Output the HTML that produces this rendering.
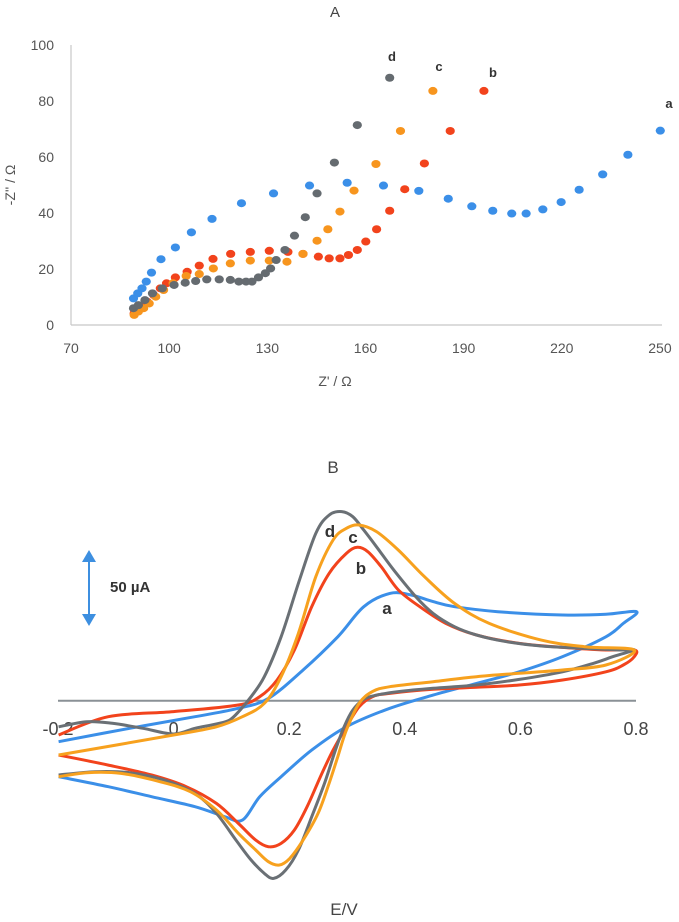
<!DOCTYPE html>
<html><head><meta charset="utf-8"><style>
html,body{margin:0;padding:0;background:#fff;}
svg{display:block;font-family:"Liberation Sans",sans-serif;}
</style></head><body>
<svg id="fig" width="679" height="922" viewBox="0 0 679 922" xmlns="http://www.w3.org/2000/svg">
<g id="chartA">
  <text x="335" y="17" font-size="15" fill="#444" text-anchor="middle">A</text>
  <line x1="71" y1="45" x2="71" y2="325" stroke="#c8c8c8" stroke-width="1.2"/>
  <line x1="71" y1="325" x2="662" y2="325" stroke="#c8c8c8" stroke-width="1.2"/>
  <text transform="translate(15,185) rotate(-90)" font-size="14" fill="#555" text-anchor="middle">-Z'' / Ω</text>
  <text x="335" y="386" font-size="14" fill="#555" text-anchor="middle">Z' / Ω</text>
  <g id="aTicks"></g>
  <g id="aPts"></g>
  <text x="392" y="61" font-size="13" font-weight="bold" fill="#333" text-anchor="middle">d</text>
  <text x="439" y="71" font-size="13" font-weight="bold" fill="#333" text-anchor="middle">c</text>
  <text x="493" y="77" font-size="13" font-weight="bold" fill="#333" text-anchor="middle">b</text>
  <text x="669" y="108" font-size="13" font-weight="bold" fill="#333" text-anchor="middle">a</text>
</g>
<g id="chartB">
  <text x="333" y="473" font-size="17" fill="#444" text-anchor="middle">B</text>
  <line x1="58" y1="700.7" x2="636" y2="700.7" stroke="#8a9196" stroke-width="2"/>
  <g id="bTicks"></g>
  <g id="bCurves"></g>
  <g>
    <line x1="89" y1="556" x2="89" y2="620" stroke="#3d8fe0" stroke-width="2"/>
    <polygon points="82,562 89,550 96,562" fill="#3d8fe0"/>
    <polygon points="82,614 89,626 96,614" fill="#3d8fe0"/>
  </g>
  <text x="110" y="592" font-size="15" font-weight="bold" fill="#333">50 µA</text>
  <text x="330" y="537" font-size="17" font-weight="bold" fill="#333" text-anchor="middle">d</text>
  <text x="353" y="543" font-size="17" font-weight="bold" fill="#333" text-anchor="middle">c</text>
  <text x="361" y="574" font-size="17" font-weight="bold" fill="#333" text-anchor="middle">b</text>
  <text x="387" y="614" font-size="17" font-weight="bold" fill="#333" text-anchor="middle">a</text>
  <text x="344" y="915" font-size="17" fill="#444" text-anchor="middle">E/V</text>
</g>
</svg>
<script>
// ---- Chart A data ----
const aXTicks = [70,100,130,160,190,220,250];
const aYTicks = [0,20,40,60,80,100];
const aZre = [89.1,90.4,91.7,93.0,94.6,97.5,101.9,106.8,113.1,122.1,131.9,142.9,154.4,165.5,176.3,185.3,192.5,198.9,204.7,209.1,214.2,219.8,225.3,232.5,240.2,250.1];
const aZim = [9.5,11.3,13.1,15.5,18.7,23.5,27.7,33.1,37.9,43.5,47.0,49.8,50.8,49.8,47.9,45.1,42.4,40.8,39.8,39.8,41.3,43.9,48.3,53.8,60.8,69.4];
const bZre = [89.3,90.6,92.0,93.3,95.3,97.3,99.2,101.9,105.5,109.2,113.4,118.8,124.8,130.6,136.3,140.9,145.6,148.9,152.2,154.8,157.5,160.1,163.4,167.4,172.0,178.0,185.9,196.2];
const bZim = [4.2,5.4,6.5,8.3,10.7,13.1,14.9,17.0,19.0,21.2,23.6,25.4,26.1,26.5,26.1,25.4,24.4,23.8,23.8,25.0,26.8,29.8,34.2,40.8,48.5,57.7,69.3,83.6];
const cZre = [89.3,90.6,92.2,93.9,95.9,98.3,101.2,105.2,109.2,113.5,118.7,124.8,130.6,136.0,140.9,145.2,148.5,152.2,156.5,163.2,170.7,180.6];
const cZim = [3.6,4.8,6.0,7.7,10.1,12.5,14.9,17.5,18.2,20.2,22.0,23.0,23.0,22.6,25.4,30.1,34.2,40.5,48.0,57.5,69.3,83.6];
const dZre = [89.1,90.6,92.6,94.9,97.9,101.5,104.9,108.1,111.5,115.3,118.7,121.3,123.5,125.3,127.3,129.4,131.0,132.7,135.4,138.3,141.6,145.2,150.5,157.5,167.4];
const dZim = [6.0,7.1,8.9,11.3,13.1,14.3,15.1,15.7,16.3,16.3,16.1,15.5,15.5,15.5,17.0,18.5,20.2,23.2,26.8,31.9,38.5,47.0,58.0,71.4,88.3];

// ---- Chart B data (E in V, i in µA) ----
const bETicks = [-0.2,0,0.2,0.4,0.6,0.8];
const cvA_E = [-0.199,-0.076,0.037,0.112,0.164,0.224,0.284,0.329,0.374,0.411,0.449,0.486,0.561,0.673,0.748,0.801,0.778,0.748,0.673,0.598,0.524,0.449,0.374,0.299,0.239,0.186,0.149,0.119,0.089,0.037,-0.038,-0.113,-0.199];
const cvA_I = [-28.5,-19.2,-11.1,-5.3,1.6,21.3,44.4,65.3,74.5,73.4,68.8,65.3,61.8,59.5,60.0,61.8,53.7,44.4,30.6,20.1,12.0,3.9,-5.3,-18.1,-34.3,-52.8,-66.7,-82.9,-80.6,-73.6,-66.7,-59.7,-52.8];
const cvB_E = [-0.199,-0.113,0.0,0.112,0.149,0.179,0.209,0.239,0.269,0.299,0.318,0.336,0.359,0.389,0.426,0.471,0.524,0.598,0.673,0.748,0.797,0.797,0.778,0.748,0.673,0.598,0.524,0.449,0.374,0.344,0.321,0.299,0.276,0.254,0.231,0.209,0.186,0.164,0.142,0.112,0.074,0.022,-0.038,-0.113,-0.199];
const cvB_I = [-23.8,-11.1,-7.6,-3.0,2.8,14.4,35.2,65.3,88.4,102.3,106.5,103.5,93.1,76.9,65.3,53.7,45.6,39.8,37.0,35.2,35.2,30.6,24.8,20.1,14.4,10.9,9.3,7.9,5.1,2.8,-4.2,-18.1,-34.3,-52.8,-73.6,-89.8,-99.1,-101.4,-96.8,-85.2,-71.3,-59.7,-51.6,-44.7,-37.7];
const cvC_E = [-0.199,0.0,0.074,0.119,0.157,0.186,0.216,0.246,0.276,0.299,0.321,0.351,0.389,0.434,0.486,0.546,0.636,0.711,0.797,0.748,0.673,0.598,0.524,0.449,0.374,0.344,0.321,0.299,0.284,0.269,0.250,0.224,0.201,0.183,0.164,0.142,0.112,0.074,0.029,-0.023,-0.091,-0.150,-0.199];
const cvC_I = [-37.7,-23.8,-18.1,-11.1,-1.9,16.7,46.8,86.1,111.6,119.7,122.0,117.4,104.6,86.1,67.6,53.7,42.1,37.5,35.2,24.8,21.3,19.0,16.7,13.2,9.7,6.3,-1.9,-20.4,-38.9,-57.4,-78.2,-96.8,-109.5,-114.1,-111.8,-103.7,-92.1,-75.9,-63.2,-56.3,-50.5,-50.0,-52.8];
const cvD_E = [-0.199,-0.150,-0.106,-0.053,0.0,0.037,0.074,0.097,0.115,0.134,0.157,0.186,0.216,0.246,0.269,0.291,0.310,0.329,0.351,0.381,0.419,0.449,0.486,0.524,0.576,0.636,0.711,0.771,0.797,0.763,0.726,0.673,0.598,0.524,0.449,0.389,0.351,0.329,0.310,0.295,0.280,0.261,0.239,0.216,0.194,0.173,0.157,0.134,0.108,0.074,0.037,-0.016,-0.076,-0.136,-0.199];
const cvD_I = [-18.1,-14.6,-15.7,-19.2,-23.1,-19.2,-16.2,-13.4,-6.5,2.8,16.7,44.4,81.5,116.2,128.9,131.3,127.8,118.5,106.9,90.7,72.2,60.6,51.4,45.6,41.0,38.0,36.3,35.2,35.2,31.0,25.9,20.1,14.8,10.9,8.6,6.3,3.9,0.9,-6.5,-18.1,-34.3,-57.4,-80.6,-103.7,-117.6,-123.4,-119.9,-110.6,-96.8,-78.2,-64.4,-55.1,-50.0,-49.3,-51.6];

const NS = "http://www.w3.org/2000/svg";
const ax = v => 71 + (v - 70) * 3.272;
const ay = v => 325 - v * 2.8;
const bx = e => 58 + (e + 0.2) * 578;
const by = i => 700.7 - i * 1.44;

function mk(tag, attrs, parent) {
  const el = document.createElementNS(NS, tag);
  for (const k in attrs) el.setAttribute(k, attrs[k]);
  parent.appendChild(el);
  return el;
}

const aTicks = document.getElementById('aTicks');
aXTicks.forEach(v => {
  const t = mk('text', {x: ax(v), y: 353, 'font-size': 14, fill: '#555', 'text-anchor': 'middle'}, aTicks);
  
  
  t.textContent = v;
});
aYTicks.forEach(v => {
  const t = mk('text', {x: 54, y: ay(v) + 5, 'font-size': 14, fill: '#555', 'text-anchor': 'end'}, aTicks);
  
  
  t.textContent = v;
});

const aPts = document.getElementById('aPts');
const aSeries = [
  ['series-a', aZre, aZim, '#3b8fe8'],
  ['series-b', bZre, bZim, '#f2431c'],
  ['series-c', cZre, cZim, '#f7951e'],
  ['series-d', dZre, dZim, '#656b70']
];
aSeries.forEach(([name, xs, ys, col]) => {
  const g = mk('g', {fill: col}, aPts);
  
  
  xs.forEach((x, k) => {
    const c = mk('ellipse', {cx: ax(x), cy: ay(ys[k]), rx: 4.6, ry: 4.0}, g);
    
    
  });
});

const bTicks = document.getElementById('bTicks');
bETicks.forEach(v => {
  const t = mk('text', {x: bx(v), y: 735, 'font-size': 18, fill: '#444', 'text-anchor': 'middle'}, bTicks);
  
  
  t.textContent = v;
});

function smoothPath(P) {
  let d = 'M' + P[0][0].toFixed(1) + ',' + P[0][1].toFixed(1);
  for (let k = 0; k < P.length - 1; k++) {
    const p0 = P[Math.max(0, k - 1)], p1 = P[k], p2 = P[k + 1], p3 = P[Math.min(P.length - 1, k + 2)];
    const c1x = p1[0] + (p2[0] - p0[0]) / 6, c1y = p1[1] + (p2[1] - p0[1]) / 6;
    const c2x = p2[0] - (p3[0] - p1[0]) / 6, c2y = p2[1] - (p3[1] - p1[1]) / 6;
    d += 'C' + c1x.toFixed(1) + ',' + c1y.toFixed(1) + ' ' + c2x.toFixed(1) + ',' + c2y.toFixed(1) + ' ' + p2[0].toFixed(1) + ',' + p2[1].toFixed(1);
  }
  return d;
}
const bCurves = document.getElementById('bCurves');
const cvSeries = [
  ['cv-curve-a', cvA_E, cvA_I, '#3b8fe8'],
  ['cv-curve-b', cvB_E, cvB_I, '#f2431c'],
  ['cv-curve-d', cvD_E, cvD_I, '#6a7075'],
  ['cv-curve-c', cvC_E, cvC_I, '#f7a11e']
];
cvSeries.forEach(([name, es, is, col]) => {
  const P = es.map((e, k) => [bx(e), by(is[k])]);
  const p = mk('path', {d: smoothPath(P), fill: 'none', stroke: col, 'stroke-width': 3, 'stroke-linejoin': 'round'}, bCurves);
  
  
});
</script>
</body></html>
